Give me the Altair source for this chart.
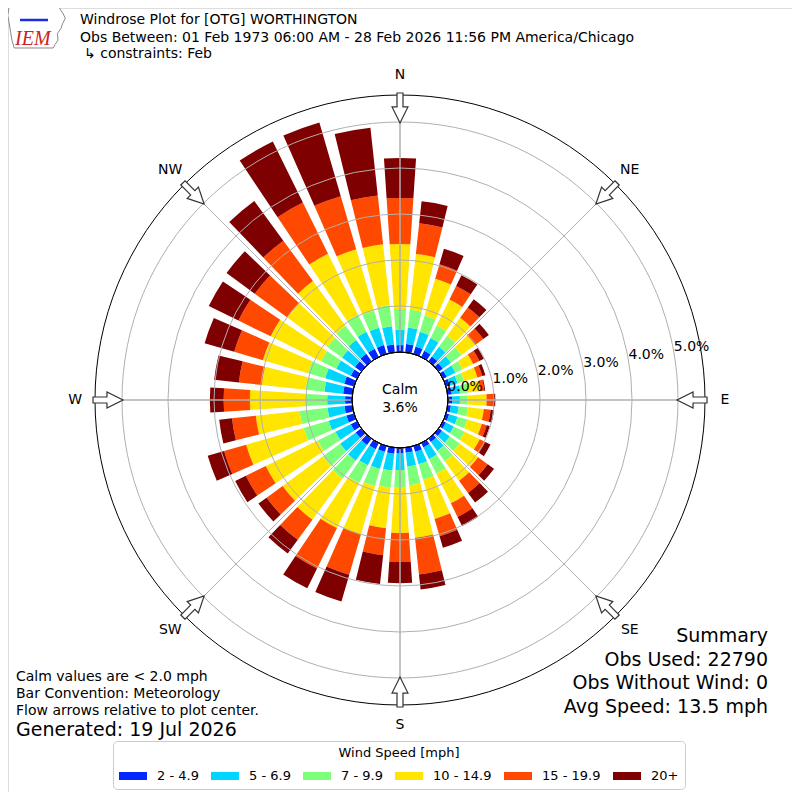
import math
import altair as alt
import pandas as pd

# ---------------- data ----------------
directions = [0, 10, 20, 30, 40, 50, 60, 70, 80, 90, 100, 110, 120, 130, 140, 150, 160, 170,
              180, 190, 200, 210, 220, 230, 240, 250, 260, 270, 280, 290, 300, 310, 320, 330, 340, 350]
speed_bins = ["2 - 4.9", "5 - 6.9", "7 - 9.9", "10 - 14.9", "15 - 19.9", "20+"]
bin_colors = ["#0028ff", "#00d5ff", "#7dff7a", "#ffe500", "#ff4800", "#7f0000"]

pct_2_5 = [0.15, 0.18, 0.17, 0.15, 0.13, 0.11, 0.09, 0.09, 0.09, 0.09, 0.07, 0.07, 0.07, 0.09, 0.09, 0.11, 0.13, 0.11,
           0.11, 0.13, 0.13, 0.15, 0.17, 0.15, 0.15, 0.17, 0.17, 0.15, 0.20, 0.22, 0.15, 0.17, 0.20, 0.20, 0.20, 0.17]
pct_5_7 = [0.33, 0.36, 0.33, 0.31, 0.26, 0.22, 0.21, 0.17, 0.19, 0.17, 0.17, 0.19, 0.19, 0.21, 0.24, 0.28, 0.28, 0.30,
           0.37, 0.37, 0.39, 0.39, 0.42, 0.42, 0.37, 0.40, 0.37, 0.39, 0.41, 0.43, 0.35, 0.35, 0.37, 0.41, 0.39, 0.40]
pct_7_10 = [0.46, 0.39, 0.37, 0.30, 0.30, 0.28, 0.17, 0.15, 0.17, 0.17, 0.20, 0.22, 0.26, 0.26, 0.28, 0.35, 0.35, 0.41,
            0.37, 0.37, 0.39, 0.43, 0.48, 0.46, 0.43, 0.57, 0.61, 0.48, 0.41, 0.39, 0.37, 0.39, 0.39, 0.41, 0.39, 0.46]
pct_10_15 = [1.41, 1.22, 0.83, 0.63, 0.48, 0.37, 0.26, 0.30, 0.26, 0.41, 0.35, 0.33, 0.37, 0.50, 0.52, 0.72, 0.89, 1.15,
             1.00, 0.89, 1.09, 1.09, 1.11, 1.09, 1.26, 1.30, 0.96, 1.20, 0.96, 1.02, 1.22, 1.09, 1.20, 1.48, 1.39, 1.33]
pct_15_20 = [1.00, 0.67, 0.33, 0.33, 0.28, 0.22, 0.15, 0.11, 0.09, 0.15, 0.15, 0.11, 0.13, 0.26, 0.33, 0.33, 0.39, 0.80,
             0.63, 0.59, 0.91, 0.98, 0.54, 0.43, 0.48, 0.50, 0.52, 0.57, 0.50, 0.65, 0.78, 0.87, 1.09, 1.24, 1.20, 1.07]
pct_20p = [0.87, 0.48, 0.35, 0.26, 0.22, 0.15, 0.11, 0.07, 0.02, 0.04, 0.07, 0.07, 0.13, 0.17, 0.26, 0.22, 0.26, 0.33,
           0.46, 0.63, 0.61, 0.48, 0.37, 0.22, 0.26, 0.37, 0.28, 0.30, 0.54, 0.67, 0.72, 0.76, 1.07, 1.48, 1.67, 1.48]

ring_values = [0, 1, 2, 3, 4, 5]
ring_labels = ["0.0%", "1.0%", "2.0%", "3.0%", "4.0%", "5.0%"]
compass_angles = [0, 45, 90, 135, 180, 225, 270, 315]
compass_names = ["N", "NE", "E", "SE", "S", "SW", "W", "NW"]
calm_text = "Calm\n3.6%"

title_lines = ["Windrose Plot for [OTG] WORTHINGTON",
               "Obs Between: 01 Feb 1973 06:00 AM - 28 Feb 2026 11:56 PM America/Chicago",
               "↳ constraints: Feb"]
note_lines = ["Calm values are < 2.0 mph", "Bar Convention: Meteorology",
              "Flow arrows relative to plot center."]
generated_text = "Generated: 19 Jul 2026"
summary_lines = ["Summary", "Obs Used: 22790", "Obs Without Wind: 0", "Avg Speed: 13.5 mph"]

# ---------------- layout constants ----------------
W = H = 784
CX, CY = W / 2, H / 2
FONT = "DejaVu Sans"
R_INNER, R_OUTER = 48, 305
PX_PER_PCT = 46
MAX_PCT = (R_OUTER - R_INNER) / PX_PER_PCT
HALF_W = 3.8
GRID = "#b0b0b0"

series = [pct_2_5, pct_5_7, pct_7_10, pct_10_15, pct_15_20, pct_20p]
rows = []
for i, d in enumerate(directions):
    for j, name in enumerate(speed_bins):
        rows.append({"dir": d, "bin": name, "order": j, "pct": series[j][i]})
df = pd.DataFrame(rows)

theta_scale = alt.Scale(domain=[0, 360], range=[0, 2 * math.pi])
r_scale = alt.Scale(type="linear", domain=[0, MAX_PCT], range=[R_INNER, R_OUTER], zero=False, nice=False)

legend = alt.Legend(
    title="Wind Speed [mph]", orient="none", legendX=105, legendY=733,
    direction="horizontal", columns=6, titleAnchor="middle", titleOrient="top",
    titleFont=FONT, titleFontSize=13, titleFontWeight="normal", titleColor="black", titlePadding=2,
    labelFont=FONT, labelFontSize=13, labelColor="black", labelOffset=10,
    symbolType="M-1,-0.2857H1V0.2857H-1Z", symbolSize=784, symbolStrokeWidth=0, symbolOpacity=1,
    columnPadding=12, padding=6, strokeColor="#cccccc", fillColor="white", cornerRadius=4,
)

bars = alt.Chart(df).transform_window(
    cum="sum(pct)", groupby=["dir"], sort=[alt.SortField("order")], frame=[None, 0]
).transform_calculate(
    r0="datum.cum - datum.pct", t0=f"datum.dir - {HALF_W}", t1=f"datum.dir + {HALF_W}"
).mark_arc().encode(
    theta=alt.Theta("t0:Q", scale=theta_scale, stack=False),
    theta2="t1:Q",
    radius=alt.Radius("cum:Q", scale=r_scale, stack=False),
    radius2="r0:Q",
    color=alt.Color("bin:N", scale=alt.Scale(domain=speed_bins, range=bin_colors), legend=legend),
    order=alt.Order("order:Q"),
)


def full_circle(values, **mark):
    cdf = pd.DataFrame({"r": values})
    return alt.Chart(cdf).mark_arc(**mark).encode(
        theta=alt.value(0), theta2=alt.value(2 * math.pi),
        radius=alt.Radius("r:Q", scale=r_scale, stack=False),
    )


rings = full_circle(ring_values[1:], filled=False, stroke=GRID, strokeWidth=1)
outer = full_circle([MAX_PCT], filled=False, stroke="black", strokeWidth=1)
calm = full_circle([0], fill="white", stroke="black", strokeWidth=1)

spoke_df = pd.DataFrame({"a": compass_angles, "r_in": [0] * 8, "r_out": [MAX_PCT] * 8})
spokes = alt.Chart(spoke_df).mark_arc(filled=False, stroke=GRID, strokeWidth=1).encode(
    theta=alt.Theta("a:Q", scale=theta_scale, stack=False),
    theta2="a:Q",
    radius=alt.Radius("r_out:Q", scale=r_scale, stack=False),
    radius2="r_in:Q",
)

ARROW = "M-0.2,-1L0.2,-1L0.2,-0.07L0.53,-0.07L0,1L-0.53,-0.07L-0.2,-0.07Z"
R_ARROW = 292
arrow_df = pd.DataFrame({"a": compass_angles})
arrow_df["ax"] = [CX + R_ARROW * math.sin(math.radians(a)) for a in compass_angles]
arrow_df["ay"] = [CY - R_ARROW * math.cos(math.radians(a)) for a in compass_angles]
arrows = alt.Chart(arrow_df).mark_point(
    shape=ARROW, size=900, filled=True, fill="white", stroke="#333333", strokeWidth=1.2, opacity=1
).encode(
    x=alt.X("ax:Q", scale=None, axis=None), y=alt.Y("ay:Q", scale=None, axis=None),
    angle=alt.Angle("a:Q", scale=None),
)

compass_df = pd.DataFrame({"a": compass_angles, "name": compass_names, "r": [6.02] * 8})
compass = alt.Chart(compass_df).mark_text(font=FONT, fontSize=14, color="black",
                                          align="center", baseline="middle").encode(
    theta=alt.Theta("a:Q", scale=theta_scale, stack=False),
    radius=alt.Radius("r:Q", scale=r_scale, stack=False),
    text="name:N",
)

rlab_df = pd.DataFrame({"r": ring_values, "label": ring_labels, "a": [80] * len(ring_values)})
rlabels = alt.Chart(rlab_df).mark_text(font=FONT, fontSize=14, color="black",
                                       align="left", baseline="alphabetic", dy=-1).encode(
    theta=alt.Theta("a:Q", scale=theta_scale, stack=False),
    radius=alt.Radius("r:Q", scale=r_scale, stack=False),
    text="label:N",
)

calm_label = alt.Chart(pd.DataFrame({"t": [calm_text]})).mark_text(
    font=FONT, fontSize=14, color="black", align="center",
    baseline="middle", lineBreak="\n", lineHeight=18).encode(
    x=alt.value(CX), y=alt.value(CY - 10), text="t:N",
)


def text_layer(lines, x, y0, dy, size, align="left", color="black"):
    tdf = pd.DataFrame({"t": lines})
    tdf["yy"] = [y0 + k * dy for k in range(len(lines))]
    return alt.Chart(tdf).mark_text(font=FONT, fontSize=size, color=color, align=align,
                                    baseline="alphabetic").encode(
        x=alt.value(x), y=alt.Y("yy:Q", scale=None, axis=None), text="t:N",
    )


titles = text_layer(title_lines[:2], 72, 16, 18, 14)
title3 = text_layer(title_lines[2:], 76, 50, 18, 14)
notes = text_layer(note_lines, 8, 673, 17, 14)
generated = text_layer([generated_text], 8, 728, 0, 19)
summary = text_layer(summary_lines, 760, 634, 23.7, 19, align="right")

IOWA = ("M-0.95,-0.75L0.72,-0.75L0.8,-0.6L0.9,-0.45L0.97,-0.3L0.88,-0.12L0.82,0.05L0.7,0.22"
        "L0.72,0.45L0.62,0.6L0.55,0.72L-0.78,0.72L-0.86,0.45L-0.9,0.2L-0.95,-0.1L-1,-0.4Z")
logo_outline = alt.Chart(pd.DataFrame({"lx": [29], "ly": [19]})).mark_point(
    shape=IOWA, size=3400, filled=True, fill="white", stroke="#888888", strokeWidth=1, opacity=1
).encode(x=alt.X("lx:Q", scale=None, axis=None), y=alt.Y("ly:Q", scale=None, axis=None))

logo_bar = alt.Chart(pd.DataFrame({"x1": [12], "x2": [40], "y1": [12]})).mark_rule(
    color="#1a2ee0", strokeWidth=2.5
).encode(x=alt.X("x1:Q", scale=None, axis=None), x2="x2:Q", y=alt.Y("y1:Q", scale=None, axis=None))

logo = alt.Chart(pd.DataFrame({"t": ["IEM"]})).mark_text(
    font="Liberation Serif", fontSize=20, fontStyle="italic", color="#cc2222", align="left",
    baseline="alphabetic").encode(x=alt.value(7), y=alt.value(37), text="t:N")

chart = alt.layer(
    bars, rings, spokes, outer, calm, arrows, compass, rlabels, calm_label,
    titles, title3, notes, generated, summary, logo_outline, logo_bar, logo,
).properties(
    width=W, height=H, padding=0, autosize=alt.AutoSizeParams(type="none"),
).configure_view(strokeWidth=0).configure(font=FONT)

chart.save("out.html", embed_options={"renderer": "svg", "actions": False})
